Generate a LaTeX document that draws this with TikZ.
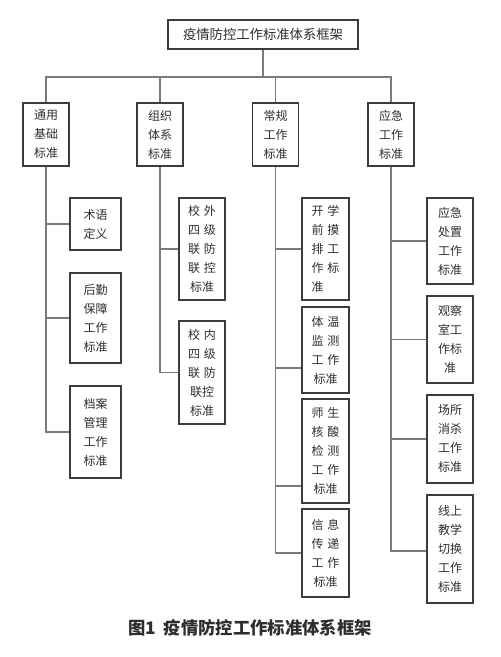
\documentclass[tikz,border=0pt]{standalone}
\usepackage{fontspec}
\newfontfamily\cjk{Noto Sans CJK SC}
\usetikzlibrary{positioning, calc}
\definecolor{cline}{HTML}{7A7A7A}
\definecolor{cbox}{HTML}{3C3C3C}
\definecolor{ctext}{HTML}{2E2E2E}
\newcommand{\cgap}{\hspace{3pt}}
\tikzset{
  every picture/.style={font=\cjk, line width=0.8pt},
  box/.style={draw=cbox, text=ctext, align=center, inner sep=0pt, line width=0.9pt,
    font=\cjk\fontsize{9}{14.25}\selectfont},
  link/.style={draw=cline, line width=0.8pt},
  caption/.style={font=\cjk\bfseries\fontsize{13}{15}\selectfont, text=ctext},
}

\begin{document}
\begin{tikzpicture}[x=0.75pt, y=-0.75pt,
    lvl/.style={box, minimum width=34.5pt, minimum height=47.25pt},
    colA/.style={box, minimum width=38.25pt, minimum height=#1},
    colB/.style={box, minimum width=34.5pt, minimum height=#1},
    colC/.style={box, minimum width=35.25pt, minimum height=#1},
    colD/.style={box, minimum width=34.5pt, minimum height=#1}]
  \useasboundingbox (0,0) rectangle (500,657);
  % ---- top: the frame and its four groups ----
  \node[box, minimum width=142.5pt, minimum height=21.75pt, font=\cjk\fontsize{10}{12}\selectfont]
    (top) at (263,34.5) {疫情防控工作标准体系框架};
  \coordinate (bus) at (263,77);
  \foreach \x/\t [count=\i] in {46/{通用\\基础\\标准}, 160/{组织\\体系\\标准},
      275.5/{常规\\工作\\标准}, 391/{应急\\工作\\标准}}
    \node[lvl] (n\i) at (\x,134.5) {\t};
  \draw[link] (top.south) -- (bus);
  \draw[link] (n1.north) -- (n1.north |- bus) -- (n4.north |- bus) -- (n4.north);
  \foreach \i in {2,3}
    \draw[link] (n\i.north) -- (n\i.north |- bus);
  % ---- columns of standards ----
  \node[colA=39pt]   (a1) at (95.5,224) {术语\\定义};
  \node[colA=67.5pt] (a2) at (95.5,318) {后勤\\保障\\工作\\标准};
  \node[colA=69pt]   (a3) at (95.5,432) {档案\\管理\\工作\\标准};
  \node[colB=76.5pt]  (b1) at (202,249) {校\cgap 外\\四\cgap 级\\联\cgap 防\\联\cgap 控\\标准};
  \node[colB=77.25pt] (b2) at (202,372.5) {校\cgap 内\\四\cgap 级\\联\cgap 防\\联控\\标准};
  \node[colC=76.5pt] (c1) at (325.5,249) {开\cgap 学\\前\cgap 摸\\排\cgap 工\\作\cgap 标\\准\cgap\phantom{准}};
  \node[colC=64.5pt] (c2) at (325.5,350) {体\cgap 温\\监\cgap 测\\工\cgap 作\\标准};
  \node[colC=78pt]   (c3) at (325.5,451) {师\cgap 生\\核\cgap 酸\\检\cgap 测\\工\cgap 作\\标准};
  \node[colC=66pt]   (c4) at (325.5,553) {信\cgap 息\\传\cgap 递\\工\cgap 作\\标准};
  \node[colD=64.5pt]  (d1) at (450,241) {应急\\处置\\工作\\标准};
  \node[colD=65.25pt] (d2) at (450,339.5) {观察\\室工\\作标\\准};
  \node[colD=66pt]    (d3) at (450,439) {场所\\消杀\\工作\\标准};
  \node[colD=81pt]    (d4) at (450,549) {线上\\教学\\切换\\工作\\标准};
  % ---- branches ----
  \draw[link] (n1.south) |- (a3.west);
  \draw[link] (n2.south) |- (b2.west);
  \draw[link] (n3.south) |- (c4.west);
  \draw[link] (n4.south) |- ([yshift=-1.5pt]d4.west);
  \foreach \c in {a1, a2}
    \draw[link] (\c.west) -- (\c.west -| n1.south);
  \draw[link] (b1.west) -- (b1.west -| n2.south);
  \draw[link] (c1.west) -- (c1.west -| n3.south);
  \draw[link] ([yshift=-13.5pt]c2.west) -- ([yshift=-13.5pt]c2.west -| n3.south);
  \draw[link] ([yshift=-26.25pt]c3.west) -- ([yshift=-26.25pt]c3.west -| n3.south);
  \foreach \c in {d1, d2, d3}
    \draw[link] (\c.west) -- (\c.west -| n4.south);
  % ---- caption ----
  \node[caption] (cap) at (250,628) {图1\hspace{6pt}疫情防控工作标准体系框架};
\end{tikzpicture}
\end{document}
